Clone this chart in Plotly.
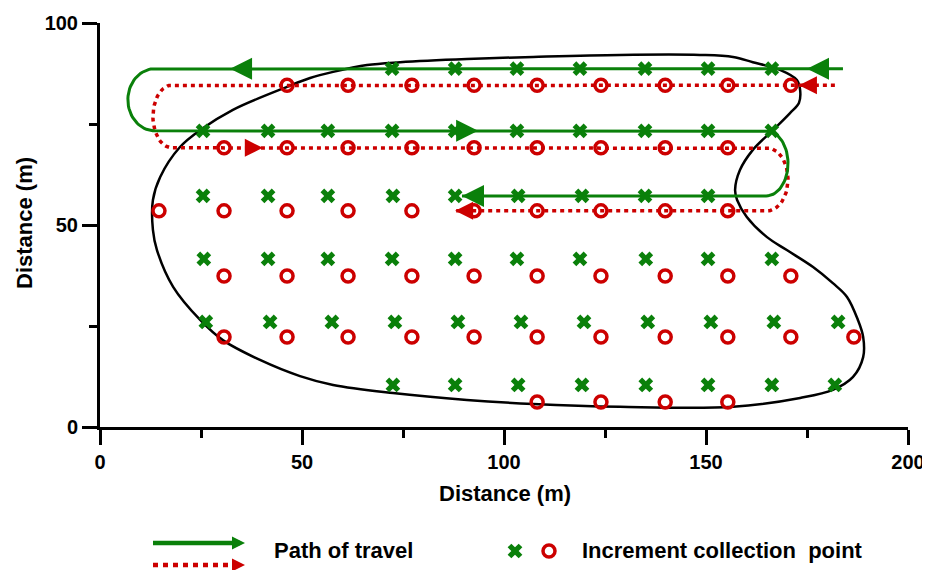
import numpy as np
import plotly.graph_objects as go

GREEN = "#0a800a"
RED = "#cc0000"
FONT = "Liberation Sans"

# ---------------- data ----------------
# outline of the sampled area (metres)
boundary_x = [128.7, 156.7, 173.3, 181.4, 186.4, 188.9, 188.9, 187.6, 184.9, 181.4, 176.5,
              170.0, 165.1, 160.1, 157.7, 157.2, 158.4, 161.6, 166.6, 170.8, 173.0, 173.3,
              172.5, 168.3, 161.6, 156.7, 148.5, 128.7, 107.2, 90.8, 74.3, 66.1, 57.7, 52.0,
              46.3, 32.9, 24.8, 19.8, 14.9, 13.1, 13.1, 14.1, 18.1, 24.8, 30.4, 39.6, 49.5,
              57.7, 72.5, 90.8, 107.2, 128.7]
boundary_y = [5.0, 5.0, 7.2, 9.2, 12.4, 17.3, 22.3, 26.5, 32.2, 35.6, 39.6,
              43.8, 47.0, 52.0, 56.2, 58.7, 63.6, 68.6, 73.5, 77.7, 80.2, 83.4,
              85.9, 88.4, 90.3, 91.6, 92.1, 92.1, 91.6, 91.1, 90.3, 89.6, 87.9, 86.4,
              84.2, 78.5, 73.5, 69.3, 61.9, 56.2, 48.8, 43.8, 34.7, 26.5, 21.5, 16.6, 12.6,
              10.4, 8.4, 6.7, 5.7, 5.0]

# increment collection points: green crosses
green_rows_y = [88.7, 73.3, 57.2, 41.6, 26.0, 10.4]
green_rows_x = [
    [72.3, 87.9, 103.2, 118.8, 134.9, 150.5, 166.3],
    [25.5, 41.6, 56.4, 72.3, 87.9, 103.2, 118.8, 134.9, 150.5, 166.3],
    [25.5, 41.6, 56.4, 72.5, 87.9, 103.5, 119.3, 134.9, 150.5],
    [25.7, 41.6, 56.4, 72.3, 87.9, 103.2, 118.8, 135.1, 150.5, 166.3],
    [26.2, 42.1, 57.4, 73.0, 88.6, 104.2, 119.8, 135.6, 151.2, 166.8, 182.7],
    [72.5, 87.9, 103.5, 119.3, 135.1, 150.5, 166.3, 181.9],
]
# increment collection points: red circles
red_rows_y = [84.6, 69.1, 53.5, 37.4, 22.3, 6.2]
red_rows_x = [
    [46.3, 61.4, 77.2, 92.6, 108.2, 124.0, 139.9, 155.4, 171.0],
    [30.7, 46.3, 61.4, 77.2, 92.6, 108.2, 124.0, 139.9, 155.4],
    [14.6, 30.7, 46.3, 61.4, 77.2, 92.6, 108.2, 124.0, 139.9, 155.4],
    [30.7, 46.3, 61.4, 77.2, 92.6, 108.2, 124.0, 139.9, 155.4, 171.0],
    [30.7, 46.3, 61.4, 77.2, 92.6, 108.2, 124.0, 139.9, 155.4, 171.0, 186.6],
    [108.2, 124.0, 139.9, 155.4],
]

# paths of travel (start x, left turn x, right turn x, end x)
green_path = dict(start=183.9, left=13.6, left_r=6.7, right=164.9, right_r=5.4, end=89.6)
red_path = dict(start=181.9, left=17.8, left_r=4.7, right=165.1, right_r=5.2, end=87.9)

# direction arrows (tip positions)
green_arrow_x = [32.2, 175.0, 93.6, 89.6]
green_arrow_y = [green_rows_y[0], green_rows_y[0], green_rows_y[1], green_rows_y[2]]
green_arrow_sym = ["arrow-left", "arrow-left", "arrow-right", "arrow-left"]
red_arrow_x = [173.0, 40.3, 87.9]
red_arrow_y = [red_rows_y[0], red_rows_y[1], red_rows_y[2]]
red_arrow_sym = ["arrow-left", "arrow-right", "arrow-left"]

x_ticks = [0, 50, 100, 150, 200]
x_minor = [25, 75, 125, 175]
y_ticks = [0, 50, 100]
y_minor = [25, 75]


def serpentine(rows_y, p, n=40):
    y0, y1, y2 = rows_y[0], rows_y[1], rows_y[2]
    xs, ys = [p["start"]], [y0]
    t = np.linspace(np.pi / 2, 3 * np.pi / 2, n)
    yc, ry = (y0 + y1) / 2, (y0 - y1) / 2
    xs += list(p["left"] + p["left_r"] * np.cos(t))
    ys += list(yc + ry * np.sin(t))
    t = np.linspace(np.pi / 2, -np.pi / 2, n)
    yc, ry = (y1 + y2) / 2, (y1 - y2) / 2
    xs += list(p["right"] + p["right_r"] * np.cos(t))
    ys += list(yc + ry * np.sin(t))
    xs.append(p["end"])
    ys.append(y2)
    return xs, ys


gpx, gpy = serpentine(green_rows_y, green_path)
rpx, rpy = serpentine(red_rows_y, red_path)

gx = [x for row in green_rows_x for x in row]
gy = [y for row, y in zip(green_rows_x, green_rows_y) for _ in row]
rx = [x for row in red_rows_x for x in row]
ry = [y for row, y in zip(red_rows_x, red_rows_y) for _ in row]

# page layout: the html body adds an 8px offset, so the figure is sized to fit
OFF = 8
PAGE_W, PAGE_H = 930, 570
W, H = PAGE_W - OFF, PAGE_H - OFF


def px(v):
    return v - OFF


fig = go.Figure()
fig.add_trace(go.Scatter(x=boundary_x, y=boundary_y, mode="lines",
                         line=dict(color="black", width=2.5, shape="spline", smoothing=1.0),
                         hoverinfo="skip"))
fig.add_trace(go.Scatter(x=rpx, y=rpy, mode="lines",
                         line=dict(color=RED, width=3.5, dash="4px,4px"), hoverinfo="skip"))
fig.add_trace(go.Scatter(x=gpx, y=gpy, mode="lines",
                         line=dict(color=GREEN, width=3), hoverinfo="skip"))
fig.add_trace(go.Scatter(x=gx, y=gy, mode="markers",
                         marker=dict(symbol="x", size=13, color=GREEN, line=dict(width=0))))
fig.add_trace(go.Scatter(x=rx, y=ry, mode="markers",
                         marker=dict(symbol="circle-open", size=12, color=RED, line=dict(width=3.5, color=RED))))
fig.add_trace(go.Scatter(x=green_arrow_x, y=green_arrow_y, mode="markers",
                         marker=dict(symbol=green_arrow_sym, size=22, color=GREEN, line=dict(width=0))))
fig.add_trace(go.Scatter(x=red_arrow_x, y=red_arrow_y, mode="markers",
                         marker=dict(symbol=red_arrow_sym, size=18, color=RED, line=dict(width=0))))

# ---- legend drawn on a pixel-space overlay axis ----
fig.add_trace(go.Scatter(x=[px(153), px(240)], y=[px(543), px(543)], mode="lines", xaxis="x2", yaxis="y2",
                         line=dict(color=GREEN, width=4.5), hoverinfo="skip"))
fig.add_trace(go.Scatter(x=[px(245)], y=[px(543)], mode="markers", xaxis="x2", yaxis="y2",
                         marker=dict(symbol="arrow-right", size=13, color=GREEN, line=dict(width=0))))
fig.add_trace(go.Scatter(x=[px(153), px(240)], y=[px(565), px(565)], mode="lines", xaxis="x2", yaxis="y2",
                         line=dict(color=RED, width=4.5, dash="5px,5px"), hoverinfo="skip"))
fig.add_trace(go.Scatter(x=[px(245)], y=[px(565)], mode="markers", xaxis="x2", yaxis="y2",
                         marker=dict(symbol="arrow-right", size=13, color=RED, line=dict(width=0))))
fig.add_trace(go.Scatter(x=[px(515)], y=[px(551)], mode="markers", xaxis="x2", yaxis="y2",
                         marker=dict(symbol="x", size=13, color=GREEN, line=dict(width=0))))
fig.add_trace(go.Scatter(x=[px(549)], y=[px(551)], mode="markers", xaxis="x2", yaxis="y2",
                         marker=dict(symbol="circle-open", size=12, color=RED, line=dict(width=3.5, color=RED))))

axis_common = dict(showline=True, linewidth=3, linecolor="black", ticks="outside",
                   ticklen=15, tickwidth=2.5, tickcolor="black", showgrid=False, zeroline=False,
                   tickfont=dict(family=FONT, size=20, color="black", weight="bold"),
                   fixedrange=True, automargin=False)


def fx(v):
    return px(v) / W


def fy(v):
    return 1 - px(v) / H


fig.update_layout(
    width=W, height=H, showlegend=False,
    plot_bgcolor="rgba(0,0,0,0)", paper_bgcolor="white",
    margin=dict(l=0, r=0, t=0, b=0, pad=0, autoexpand=False),
    xaxis=dict(domain=[fx(100), fx(908)], range=[0, 200], tickvals=x_ticks, anchor="y",
               minor=dict(tickvals=x_minor, ticks="outside", ticklen=8, tickwidth=2.5, tickcolor="black"),
               **axis_common),
    yaxis=dict(domain=[fy(427), fy(23)], range=[0, 100], tickvals=y_ticks, anchor="x",
               minor=dict(tickvals=y_minor, ticks="outside", ticklen=8, tickwidth=2.5, tickcolor="black"),
               **axis_common),
    xaxis2=dict(domain=[0, 1], range=[0, W], visible=False, anchor="y2", fixedrange=True),
    yaxis2=dict(domain=[0, 1], range=[H, 0], visible=False, anchor="x2", fixedrange=True),
    annotations=[
        dict(text="Distance (m)", xref="paper", yref="paper", x=fx(505), y=fy(493),
             showarrow=False, xanchor="center", yanchor="middle",
             font=dict(family=FONT, size=22, color="black", weight="bold")),
        dict(text="Distance (m)", xref="paper", yref="paper", x=fx(24), y=fy(223),
             showarrow=False, xanchor="center", yanchor="middle", textangle=-90,
             font=dict(family=FONT, size=22, color="black", weight="bold")),
        dict(text="Path of travel", xref="paper", yref="paper", x=fx(272), y=fy(550),
             showarrow=False, xanchor="left", yanchor="middle",
             font=dict(family=FONT, size=22, color="black", weight="bold")),
        dict(text="Increment collection\u00a0 point", xref="paper", yref="paper", x=fx(580), y=fy(550),
             showarrow=False, xanchor="left", yanchor="middle",
             font=dict(family=FONT, size=22, color="black", weight="bold")),
    ],
)

fig.write_html("out.html")
